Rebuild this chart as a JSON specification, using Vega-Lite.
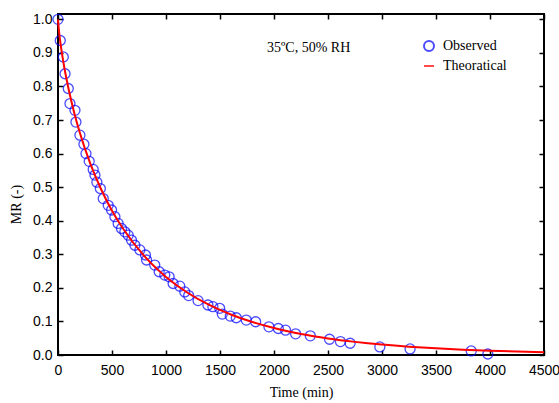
{
  "$schema": "https://vega.github.io/schema/vega-lite/v6.json",
  "width": 486,
  "height": 341,
  "autosize": {"type": "none"},
  "padding": {"left": 58, "top": 14, "right": 15, "bottom": 48},
  "background": "white",
  "config": {
    "view": {"stroke": "black", "strokeWidth": 2},
    "axis": {
      "grid": false,
      "domain": false,
      "tickColor": "black",
      "tickSize": -5,
      "tickWidth": 1.5,
      "labelFlush": false,
      "labelFont": "Liberation Sans",
      "labelFontSize": 14,
      "labelColor": "black",
      "titleFont": "Liberation Serif",
      "titleFontSize": 14,
      "titleFontWeight": "normal",
      "titleColor": "black"
    },
    "legend": {
      "labelFont": "Liberation Serif",
      "labelFontSize": 14,
      "labelColor": "black"
    }
  },
  "resolve": {"axis": {"x": "independent", "y": "independent"}},
  "layer": [
    {
      "data": {"values": [
        {"t": 0, "MR": 1.0}, {"t": 21, "MR": 0.937}, {"t": 49, "MR": 0.888}, {"t": 65, "MR": 0.838},
        {"t": 95, "MR": 0.794}, {"t": 111, "MR": 0.749}, {"t": 157, "MR": 0.729}, {"t": 166, "MR": 0.694},
        {"t": 203, "MR": 0.655}, {"t": 240, "MR": 0.628}, {"t": 259, "MR": 0.600}, {"t": 289, "MR": 0.577},
        {"t": 326, "MR": 0.553}, {"t": 342, "MR": 0.536}, {"t": 360, "MR": 0.515}, {"t": 392, "MR": 0.496},
        {"t": 419, "MR": 0.466}, {"t": 465, "MR": 0.446}, {"t": 496, "MR": 0.432}, {"t": 527, "MR": 0.412},
        {"t": 557, "MR": 0.392}, {"t": 588, "MR": 0.377}, {"t": 619, "MR": 0.367}, {"t": 650, "MR": 0.357},
        {"t": 681, "MR": 0.342}, {"t": 712, "MR": 0.327}, {"t": 758, "MR": 0.313}, {"t": 810, "MR": 0.298},
        {"t": 820, "MR": 0.283}, {"t": 896, "MR": 0.268}, {"t": 937, "MR": 0.248}, {"t": 989, "MR": 0.238},
        {"t": 1029, "MR": 0.233}, {"t": 1066, "MR": 0.213}, {"t": 1128, "MR": 0.205}, {"t": 1174, "MR": 0.188},
        {"t": 1210, "MR": 0.177}, {"t": 1297, "MR": 0.162}, {"t": 1388, "MR": 0.149}, {"t": 1434, "MR": 0.144},
        {"t": 1497, "MR": 0.139}, {"t": 1521, "MR": 0.122}, {"t": 1595, "MR": 0.116}, {"t": 1651, "MR": 0.111},
        {"t": 1743, "MR": 0.104}, {"t": 1830, "MR": 0.099}, {"t": 1953, "MR": 0.084}, {"t": 2040, "MR": 0.079},
        {"t": 2107, "MR": 0.074}, {"t": 2200, "MR": 0.063}, {"t": 2336, "MR": 0.057}, {"t": 2514, "MR": 0.047},
        {"t": 2615, "MR": 0.040}, {"t": 2705, "MR": 0.035}, {"t": 2980, "MR": 0.024}, {"t": 3260, "MR": 0.018},
        {"t": 3826, "MR": 0.012}, {"t": 3980, "MR": 0.003}
      ]},
      "transform": [{"calculate": "'Observed'", "as": "series"}],
      "mark": {"type": "point", "filled": false, "size": 100, "strokeWidth": 1.3},
      "encoding": {
        "x": {"field": "t", "type": "quantitative", "scale": {"domain": [0, 4500], "nice": false},
              "axis": {"orient": "bottom", "title": "Time (min)", "format": "d", "values": [0,500,1000,1500,2000,2500,3000,3500,4000,4500], "labelPadding": 13, "titlePadding": 8}},
        "y": {"field": "MR", "type": "quantitative", "scale": {"domain": [0, 1.016], "nice": false, "zero": false},
              "axis": {"orient": "left", "title": "MR (-)", "titleY": 190, "values": [0,0.1,0.2,0.3,0.4,0.5,0.6,0.7,0.8,0.9,1.0], "format": ".1f", "labelPadding": 11, "titlePadding": 9}},
        "color": {"field": "series", "type": "nominal",
                  "scale": {"domain": ["Observed", "Theoratical"], "range": ["#0000ff", "#ff0000"]},
                  "legend": {"title": null, "orient": "none", "legendX": 364, "legendY": 25, "symbolSize": 100, "symbolStrokeWidth": 2, "rowPadding": 4, "labelOffset": 7, "padding": 0}},
        "shape": {"field": "series", "type": "nominal",
                  "scale": {"domain": ["Observed", "Theoratical"], "range": ["circle", "stroke"]},
                  "legend": {"title": null, "orient": "none", "legendX": 364, "legendY": 25, "symbolSize": 100, "symbolStrokeWidth": 2, "rowPadding": 4, "labelOffset": 7, "padding": 0}}
      }
    },
    {
      "data": {"values": [
        {"t": 0, "MR": 1.0}, {"t": 10, "MR": 0.9624}, {"t": 25, "MR": 0.9239}, {"t": 50, "MR": 0.8722},
        {"t": 100, "MR": 0.7895}, {"t": 150, "MR": 0.7220}, {"t": 200, "MR": 0.6644}, {"t": 300, "MR": 0.5693},
        {"t": 400, "MR": 0.4931}, {"t": 500, "MR": 0.4300}, {"t": 600, "MR": 0.3776}, {"t": 800, "MR": 0.2945},
        {"t": 1000, "MR": 0.2326}, {"t": 1200, "MR": 0.1855}, {"t": 1400, "MR": 0.1492}, {"t": 1600, "MR": 0.1208},
        {"t": 1800, "MR": 0.0982}, {"t": 2000, "MR": 0.0803}, {"t": 2250, "MR": 0.0628}, {"t": 2500, "MR": 0.0494},
        {"t": 2750, "MR": 0.0391}, {"t": 3000, "MR": 0.0310}, {"t": 3250, "MR": 0.0247}, {"t": 3500, "MR": 0.0198},
        {"t": 3750, "MR": 0.0159}, {"t": 4000, "MR": 0.0128}, {"t": 4250, "MR": 0.0103}, {"t": 4500, "MR": 0.0084}
      ]},
      "transform": [{"calculate": "'Theoratical'", "as": "series"}],
      "mark": {"type": "line", "strokeWidth": 2, "interpolate": "monotone"},
      "encoding": {
        "x": {"field": "t", "type": "quantitative",
              "axis": {"orient": "top", "labels": false, "title": null, "values": [0,500,1000,1500,2000,2500,3000,3500,4000,4500]}},
        "y": {"field": "MR", "type": "quantitative",
              "axis": {"orient": "right", "labels": false, "title": null, "values": [0,0.1,0.2,0.3,0.4,0.5,0.6,0.7,0.8,0.9,1.0]}},
        "color": {"field": "series", "type": "nominal"}
      }
    },
    {
      "data": {"values": [{"label": "35ºC, 50% RH"}]},
      "mark": {"type": "text", "align": "left", "baseline": "middle", "font": "Liberation Serif", "fontSize": 14, "color": "black"},
      "encoding": {
        "x": {"datum": 1935, "type": "quantitative", "axis": null},
        "y": {"datum": 0.915, "type": "quantitative", "axis": null},
        "text": {"field": "label"}
      }
    }
  ]
}
